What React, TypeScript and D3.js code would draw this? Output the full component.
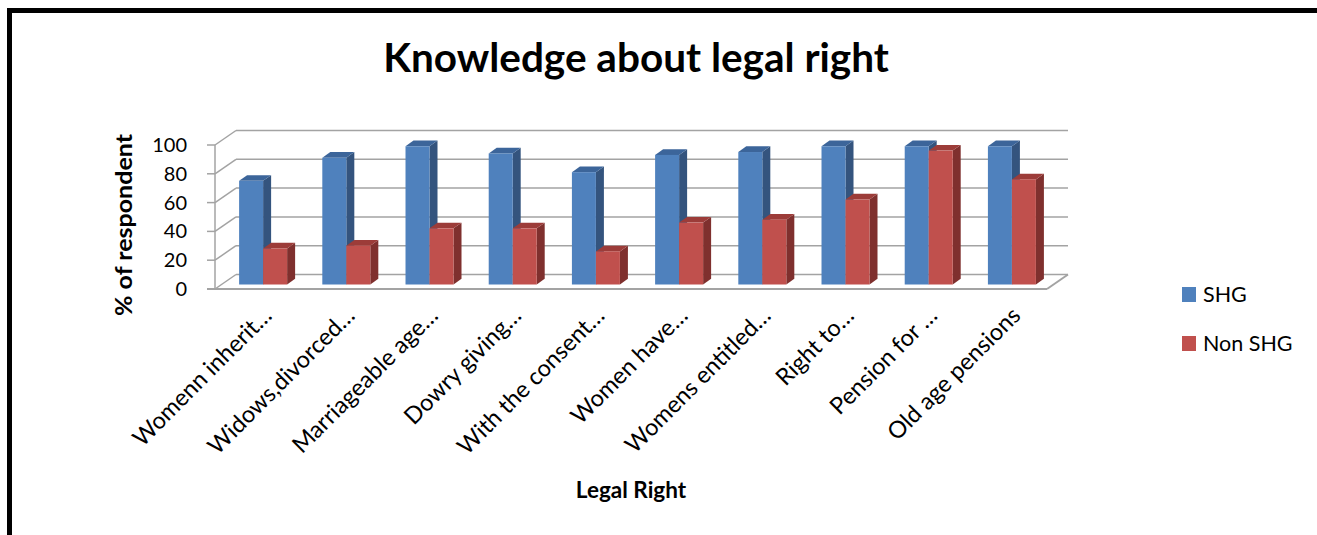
import React from "react";
import * as d3 from "d3";

const categories = [
  "Womenn inherit…",
  "Widows,divorced…",
  "Marriageable age…",
  "Dowry giving…",
  "With the consent…",
  "Women have…",
  "Womens entitled…",
  "Right to…",
  "Pension for …",
  "Old age pensions",
];
const shgValues = [72, 88, 96, 91, 78, 90, 92, 96, 96, 96];
const nonShgValues = [25, 27, 39, 39, 23, 43, 45, 59, 93, 73];
const yTicks = [0, 20, 40, 60, 80, 100];
const seriesNames = ["SHG", "Non SHG"];

const W = 1317;
const H = 535;
const FONT = "Lato, 'Open Sans', sans-serif";

const frontLeft = 215;
const frontRight = 1047;
const frontBottom = 289;
const frontTop = 145;
const depth = { dx: 21, dy: -14.5 };
const barPlane = 0.31;
const barDepth = { dx: 8, dy: -5.7 };
const barW = 24;

const colors = {
  SHG: { front: "#4f81bd", side: "#34547e", top: "#3c659a" },
  "Non SHG": { front: "#c0504d", side: "#7f302e", top: "#9c3c39" },
};

export default function App() {
  const x = d3.scaleBand<string>().domain(categories).range([frontLeft, frontRight]);
  const y = d3.scaleLinear().domain([0, 100]).range([frontBottom, frontTop]);

  const bpx = depth.dx * barPlane;
  const bpy = depth.dy * barPlane;
  const grid = "#a3a3a3";

  const bar = (x0: number, v: number, c: { front: string; side: string; top: string }, key: string) => {
    const yb = y(0) + bpy;
    const yt = y(v) + bpy;
    const x1 = x0 + barW;
    const { dx, dy } = barDepth;
    return (
      <g key={key}>
        <polygon points={`${x1},${yb} ${x1 + dx},${yb + dy} ${x1 + dx},${yt + dy} ${x1},${yt}`} fill={c.side} />
        <polygon points={`${x0},${yt} ${x0 + dx},${yt + dy} ${x1 + dx},${yt + dy} ${x1},${yt}`} fill={c.top} />
        <rect x={x0} y={yt} width={barW} height={yb - yt} fill={c.front} />
      </g>
    );
  };

  return (
    <svg width={W} height={H} style={{ position: "absolute", left: 0, top: 0, background: "#fff" }} fontFamily={FONT}>
      <rect x={9.5} y={10.5} width={W + 20} height={H + 40} fill="none" stroke="#000" strokeWidth={5} />
      <text x={636} y={72} textAnchor="middle" fontSize={40.5} fontWeight="bold" fill="#000">
        Knowledge about legal right
      </text>

      {yTicks.map((t) => (
        <g key={"g" + t}>
          <line x1={frontLeft} y1={y(t)} x2={frontLeft + depth.dx} y2={y(t) + depth.dy} stroke={grid} strokeWidth={1.5} />
          <line x1={frontLeft + depth.dx} y1={y(t) + depth.dy} x2={frontRight + depth.dx} y2={y(t) + depth.dy} stroke={grid} strokeWidth={1.5} />
          <line x1={frontLeft - 8} y1={y(t)} x2={frontLeft} y2={y(t)} stroke={grid} strokeWidth={1.5} />
          <text x={187} y={y(t)} dy="0.35em" textAnchor="end" fontSize={20} fill="#000">
            {t}
          </text>
        </g>
      ))}
      <line x1={frontLeft - 8} y1={y(0)} x2={frontRight} y2={y(0)} stroke={grid} strokeWidth={2} />
      <line x1={frontRight} y1={y(0)} x2={frontRight + depth.dx} y2={y(0) + depth.dy} stroke={grid} strokeWidth={2} />
      <line x1={frontLeft} y1={y(0)} x2={frontLeft} y2={y(100)} stroke={grid} strokeWidth={1.5} />

      {categories.map((cat, i) => {
        const cx = (x(cat) as number) + x.bandwidth() / 2 + bpx;
        return (
          <g key={cat}>
            {bar(cx - barW, shgValues[i], colors.SHG, "s" + i)}
            {bar(cx, nonShgValues[i], colors["Non SHG"], "n" + i)}
          </g>
        );
      })}

      {categories.map((cat) => {
        const cx = (x(cat) as number) + x.bandwidth() / 2 + bpx;
        return (
          <text key={"l" + cat} transform={`translate(${cx + 10},${317}) rotate(-45)`} textAnchor="end" fontSize={23.5} fill="#000">
            {cat}
          </text>
        );
      })}

      <text transform="translate(132,225) rotate(-90)" textAnchor="middle" fontSize={23} fontWeight="bold" fill="#000" textLength={182} lengthAdjust="spacingAndGlyphs">
        %  of respondent
      </text>
      <text x={631} y={498} textAnchor="middle" fontSize={22.5} fontWeight="bold" fill="#000">
        Legal Right
      </text>

      {seriesNames.map((s, i) => (
        <g key={s}>
          <rect x={1182} y={287 + i * 49} width={14} height={15} fill={colors[s as "SHG"].front} />
          <text x={1203} y={294.5 + i * 49} dy="0.35em" fontSize={21.5} fill="#000">
            {s}
          </text>
        </g>
      ))}
    </svg>
  );
}
